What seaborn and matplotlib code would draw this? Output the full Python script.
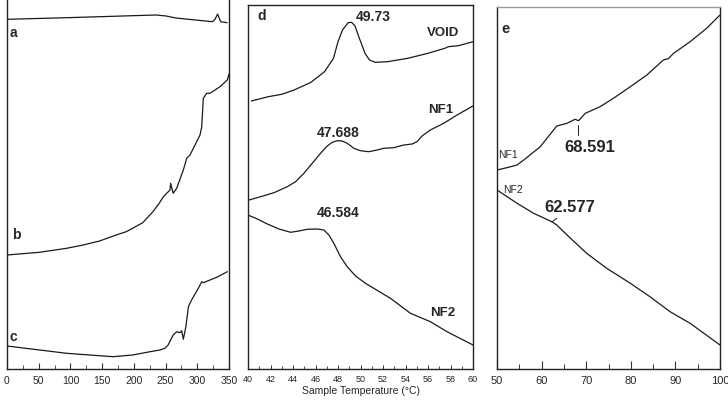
import matplotlib
matplotlib.use("Agg")
import matplotlib.pyplot as plt
from matplotlib import font_manager
import seaborn as sns

sns.set_theme(style="white")
plt.rcParams['font.family'] = ['Liberation Sans', 'DejaVu Sans']

names = {f.name for f in font_manager.fontManager.ttflist}
NARROW = 'Liberation Sans Narrow' if 'Liberation Sans Narrow' in names else 'Liberation Sans'

# ---- Panel a/b/c (0-350) ----
temp_a = [0, 94, 198, 235, 251, 266, 324, 328, 332, 334, 337, 347]
sig_a = [349.7, 351.3, 353.3, 354, 353, 351, 347.3, 349.7, 355, 351.7, 347.3, 346.3]
temp_b = [0, 51, 94, 120, 146, 172, 188, 198, 214, 230, 240, 246.5, 257, 258, 262, 267.5, 278, 283.3,
          288.5, 296.4, 304.3, 307, 309.5, 314.8, 320, 335.8, 347.3, 350]
sig_b = [114, 116.7, 120.7, 124, 128, 134, 137.3, 140.7, 146.3, 157.3, 165.7, 172.3, 179, 185.7, 175.7,
         180.7, 199, 210.7, 214, 224, 234, 242.3, 270.7, 275.7, 275.7, 282.3, 289, 295]
temp_c = [0, 94, 167, 198, 225.5, 241, 249, 254, 262, 267.5, 272.7, 275.4, 278, 282, 286, 291, 301.6,
          307, 309.5, 330.6, 347.3]
sig_c = [23, 15.7, 12.3, 14, 17.3, 19, 20.7, 24, 34, 37.3, 36.3, 38.3, 29.7, 42.3, 62.3, 69, 80.7,
         87.3, 86.3, 91.7, 97.3]
ticks_1 = [0, 50, 100, 150, 200, 250, 300, 350]

# ---- Panel d (40-60) ----
temp_void = [40.3, 41.8, 43.0, 44.1, 45.6, 46.8, 47.6, 48.0, 48.4, 48.9, 49.2, 49.5, 49.9, 50.4, 50.8,
             51.3, 52.4, 54.2, 56.0, 57.5, 57.8, 58.7, 60.0]
sig_void = [268, 272.3, 274.7, 279, 286.7, 297.3, 310.7, 327.3, 339, 346.3, 346.7, 343.3, 330.7, 315.7,
            309, 306.7, 307.3, 310.7, 315.7, 320.7, 322.3, 323.3, 327.3]
temp_nf1_d = [40.09, 41.12, 42.31, 43.49, 44.23, 44.97, 45.71, 46.45, 47.04, 47.49, 47.93, 48.37, 48.82,
              49.41, 50.0, 50.74, 51.48, 52.07, 52.96, 53.85, 54.59, 55.03, 55.47, 56.21, 57.4, 58.58, 60.0]
sig_nf1_d = [169, 172.3, 176.3, 182.3, 187.3, 195.7, 205.7, 215.7, 223, 226.7, 228.3, 228, 225.7, 220.7,
             218.3, 217.3, 219, 220.7, 221.3, 224, 225, 227.3, 233, 239, 245.7, 254, 263]
temp_nf2_d = [40.0, 40.83, 41.72, 42.75, 43.79, 44.53, 45.27, 46.15, 46.75, 47.19, 47.63, 48.22, 48.82,
              49.56, 50.44, 51.18, 52.66, 54.44, 56.21, 57.69, 60.0]
sig_nf2_d = [154, 150, 145, 140, 136.7, 138, 139.7, 140, 139, 134, 125.7, 112.3, 102.3, 93, 85.7, 80.7,
             70.7, 55.7, 47.3, 37.3, 24]
ticks_2 = [40, 42, 44, 46, 48, 50, 52, 54, 56, 58, 60]

# ---- Panel e (50-100) ----
temp_nf1_e = [50, 52.2, 54.5, 56, 59.7, 63.4, 65.7, 67.5, 68.3, 69.8, 73.1, 76.1, 79.9, 83.6, 87.3, 88.4,
              89.6, 93.3, 97, 100]
sig_nf1_e = [199, 201.3, 204, 209, 222.3, 243, 245.7, 249.7, 248.3, 255.7, 262.3, 270.7, 282.3, 294, 309,
             310.3, 315.7, 327.3, 340.7, 354]
temp_nf2_e = [50, 54.5, 58.2, 62.3, 63.4, 65.7, 70.1, 74.6, 79.9, 84.3, 88.8, 93.3, 100]
sig_nf2_e = [179, 165.7, 155.7, 147.3, 144, 134, 115.7, 100.7, 85.7, 72.3, 57.3, 45.7, 24]
ticks_3 = [50, 60, 70, 80, 90, 100]

W, H = 728, 400
fig = plt.figure(figsize=(7.28, 4.0), dpi=100)
fig.patch.set_facecolor('white')


def mk_axes(x0, x1, ytop, ybot=369):
    return fig.add_axes([x0 / W, (H - ybot) / H, (x1 - x0) / W, (ybot - ytop) / H])


ax1 = mk_axes(7, 229, 0)
ax2 = mk_axes(248, 473, 5)
ax3 = mk_axes(497, 720, 7)


def style(ax, xlim, ymax):
    ax.set_xlim(*xlim)
    ax.set_ylim(0, ymax)
    ax.set_facecolor('white')
    for s in ax.spines.values():
        s.set_color('#222222')
        s.set_linewidth(1.0)
    ax.set_yticks([])
    ax.set_ylabel('')
    ax.set_xlabel('')
    ax.tick_params(axis='x', which='both', direction='in', bottom=True, top=False,
                   color='#333333', pad=5)
    ax.grid(False)


lw = 0.9
col = '#1a1a1a'
# panel 1
for t, s in [(temp_a, sig_a), (temp_b, sig_b), (temp_c, sig_c)]:
    sns.lineplot(x=t, y=s, ax=ax1, color=col, linewidth=lw, sort=False, estimator=None)
style(ax1, (0, 350), 369)
ax1.spines['top'].set_visible(False)
ax1.set_xticks(ticks_1)
ax1.set_xticks([25, 75, 125, 175, 225, 275, 325], minor=True)
ax1.tick_params(axis='x', which='major', length=4, width=0.8, labelsize=7.5)
ax1.tick_params(axis='x', which='minor', length=3, width=0.6)
for lbl in ax1.get_xticklabels():
    lbl.set_family(NARROW)
ax1.text(9.5, 336, 'a', fontsize=10, fontweight='bold', ha='center', va='center')
ax1.text(14, 134, 'b', fontsize=10, fontweight='bold', ha='center', va='center')
ax1.text(9.5, 32, 'c', fontsize=10, fontweight='bold', ha='center', va='center')

# panel 2
for t, s in [(temp_void, sig_void), (temp_nf1_d, sig_nf1_d), (temp_nf2_d, sig_nf2_d)]:
    sns.lineplot(x=t, y=s, ax=ax2, color=col, linewidth=lw, sort=False, estimator=None)
style(ax2, (40, 60), 364)
ax2.set_xticks(ticks_2)
ax2.set_xticks([41, 43, 45, 47, 49, 51, 53, 55, 57, 59], minor=True)
ax2.tick_params(axis='x', which='major', length=3, width=0.7, labelsize=6.5, pad=4)
ax2.tick_params(axis='x', which='minor', length=2, width=0.6)
ax2.set_xlabel('Sample Temperature (°C)', fontsize=7.5, labelpad=2)
ax2.text(41.2, 353, 'd', fontsize=10, fontweight='bold', ha='center', va='center')
ax2.text(51.1, 352, '49.73', fontsize=10, fontweight='bold', ha='center', va='center')
ax2.text(57.3, 336, 'VOID', fontsize=9.5, fontweight='bold', ha='center', va='center')
ax2.text(48.0, 236, '47.688', fontsize=10, fontweight='bold', ha='center', va='center')
ax2.text(57.1, 259, 'NF1', fontsize=9.5, fontweight='bold', ha='center', va='center')
ax2.text(48.0, 156, '46.584', fontsize=10, fontweight='bold', ha='center', va='center')
ax2.text(57.3, 56, 'NF2', fontsize=9.5, fontweight='bold', ha='center', va='center')

# panel 3
for t, s in [(temp_nf1_e, sig_nf1_e), (temp_nf2_e, sig_nf2_e)]:
    sns.lineplot(x=t, y=s, ax=ax3, color=col, linewidth=lw, sort=False, estimator=None)
style(ax3, (50, 100), 362)
ax3.spines['top'].set_color('#9a9a9a')
ax3.set_xticks(ticks_3)
ax3.set_xticks([55, 65, 75, 85, 95], minor=True)
ax3.tick_params(axis='x', which='major', length=6, width=0.8, labelsize=8)
ax3.tick_params(axis='x', which='minor', length=3.5, width=0.7)
for lbl in ax3.get_xticklabels():
    lbl.set_family(NARROW)
ax3.text(51.8, 340, 'e', fontsize=10.5, fontweight='bold', ha='center', va='center')
ax3.plot([68.1, 68.1], [234, 244], color=col, linewidth=0.7)
ax3.text(70.9, 222, '68.591', fontsize=12, fontweight='bold', ha='center', va='center', family=NARROW)
ax3.plot([62.3, 63.4], [147, 150.7], color=col, linewidth=0.7)
ax3.text(66.4, 161, '62.577', fontsize=12, fontweight='bold', ha='center', va='center', family=NARROW)
ax3.text(52.5, 214, 'NF1', fontsize=7.5, ha='center', va='center', family=NARROW)
ax3.text(53.6, 179, 'NF2', fontsize=7.5, ha='center', va='center', family=NARROW)

fig.savefig('out.png', dpi=100, facecolor='white')
